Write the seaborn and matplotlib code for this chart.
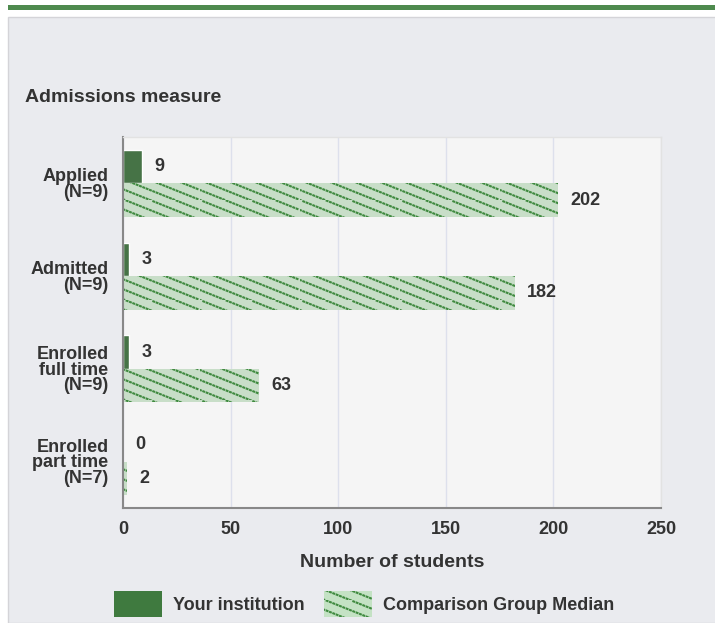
import matplotlib
matplotlib.use("Agg")
import matplotlib.hatch as mhatch
import matplotlib.pyplot as plt
import matplotlib.patches as mpatches
import numpy as np
import pandas as pd
import seaborn as sns
from matplotlib.path import Path

categories = ["Applied\n(N=9)", "Admitted\n(N=9)", "Enrolled\nfull time\n(N=9)", "Enrolled\npart time\n(N=7)"]
your_institution = [9, 3, 3, 0]
comparison_median = [202, 182, 63, 2]
series_names = ["Your institution", "Comparison Group Median"]
x_ticks = [0, 50, 100, 150, 200, 250]

DARK = "#3f7a3f"
LIGHT = "#c4e2c4"
HATCH = "#3f8a3f"
TEXT = "#333333"


class DottedDiagonal(mhatch.HatchPatternBase):
    """Shallow dotted diagonal lines, used in place of the '*' hatch."""
    rows, dots, slope, dot_len = 10, 30, 0.4, 0.008

    def __init__(self, hatch, density):
        self.num_vertices = 2 * self.rows * self.dots if "*" in hatch else 0

    def set_vertices_and_codes(self, vertices, codes):
        x = np.arange(self.dots) / self.dots
        i = 0
        for r in range(self.rows):
            y = (r / self.rows - self.slope * x) % 1.0
            n = self.dots
            vertices[i:i + 2 * n:2, 0] = x
            vertices[i:i + 2 * n:2, 1] = y
            vertices[i + 1:i + 2 * n:2, 0] = x + self.dot_len
            vertices[i + 1:i + 2 * n:2, 1] = y - self.slope * self.dot_len
            codes[i:i + 2 * n:2] = Path.MOVETO
            codes[i + 1:i + 2 * n:2] = Path.LINETO
            i += 2 * n


mhatch._hatch_types = [t for t in mhatch._hatch_types if t is not mhatch.Stars] + [DottedDiagonal]

df = pd.DataFrame({
    "category": categories * 2,
    "series": [series_names[0]] * 4 + [series_names[1]] * 4,
    "value": your_institution + comparison_median,
})

sns.set_theme(style="white")
plt.rcParams["font.family"] = ["Liberation Sans", "DejaVu Sans"]
plt.rcParams["hatch.linewidth"] = 1.5

fig = plt.figure(figsize=(7.15, 6.23), dpi=100)
fig.patch.set_facecolor("white")

# panel background and green top rule
fig.patches.append(mpatches.Rectangle((8 / 715, 0), 1, 1 - 17 / 623, transform=fig.transFigure,
                                      facecolor="#eaebef", edgecolor="#d4d4d8", lw=1, zorder=-2))
fig.patches.append(mpatches.Rectangle((8 / 715, 1 - 10 / 623), 1, 5 / 623, transform=fig.transFigure,
                                      facecolor="#4e8a4e", edgecolor="none", zorder=-1))

ax = fig.add_axes([123 / 715, 1 - 508 / 623, 538 / 715, 371 / 623])
sns.barplot(data=df, y="category", x="value", hue="series", orient="h",
            palette=[DARK, LIGHT], width=0.72, ax=ax, legend=False)
ax.set_facecolor("#f5f5f5")

for container, name in zip(ax.containers, series_names):
    for bar in container:
        if name == series_names[1]:
            bar.set_hatch("*")
            bar.set_edgecolor(HATCH)
            bar.set_linewidth(0)
    ax.bar_label(container, padding=9, fontsize=13, fontweight="bold", color=TEXT)

ax.set_xlim(0, 250)
ax.set_xticks(x_ticks)
ax.set_xticklabels([str(t) for t in x_ticks], fontsize=13, fontweight="bold", color=TEXT)
ax.tick_params(axis="x", length=0, pad=9)
ax.grid(axis="x", color="#dde0ec", lw=1)
ax.set_axisbelow(True)

ax.set_ylim(3.5, -0.5)
ax.set_yticks(range(4))
ax.set_yticklabels(categories, fontsize=13, fontweight="bold", color=TEXT, linespacing=0.88)
ax.tick_params(axis="y", which="major", length=0, pad=10.5)
ax.set_yticks([-0.5, 0.5, 1.5, 2.5], minor=True)
ax.tick_params(axis="y", which="minor", length=10, width=1.2, color="#888888")

for side in ["left", "bottom"]:
    ax.spines[side].set_color("#888888")
    ax.spines[side].set_linewidth(1.5)
for side in ["top", "right"]:
    ax.spines[side].set_color("#e2e2e2")
    ax.spines[side].set_linewidth(1)

ax.set_ylabel("")
ax.set_xlabel("Number of students", fontsize=14, fontweight="bold", color=TEXT, labelpad=12)

fig.text(25 / 715, 1 - 98 / 623, "Admissions measure", fontsize=14, fontweight="semibold",
         color=TEXT, va="center", ha="left")

handles = [
    mpatches.Patch(facecolor=DARK, edgecolor="none", label=series_names[0]),
    mpatches.Patch(facecolor=LIGHT, edgecolor=HATCH, hatch="*", lw=0, label=series_names[1]),
]
fig.legend(handles=handles, loc="center", bbox_to_anchor=(364 / 715, 1 - 604 / 623), ncol=2,
           frameon=False, prop={"size": 13, "weight": "bold"}, handlelength=2.65, handleheight=1.9,
           columnspacing=1.1, handletextpad=0.6, labelcolor=TEXT)

fig.savefig("out.png", dpi=100)
